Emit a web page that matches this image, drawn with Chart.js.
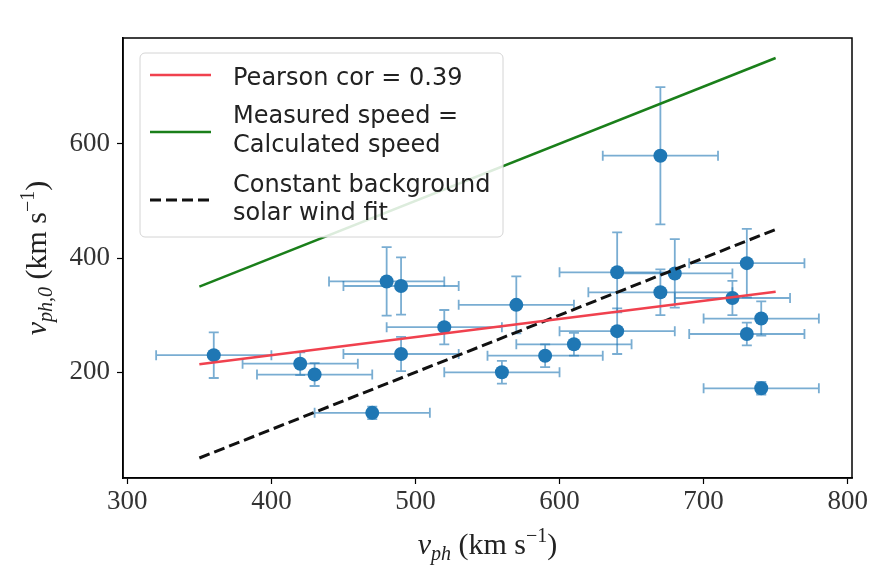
<!DOCTYPE html>
<html>
<head>
<meta charset="utf-8">
<script src="https://cdn.jsdelivr.net/npm/chart.js@4.4.0/dist/chart.umd.min.js"></script>
<style>
    html, body { margin: 0; padding: 0; background: #fff; }
</style>
</head>
<body>
<canvas id="speedChart" width="879" height="575"></canvas>
<script>
// measured phase speed (x) vs calculated speed (y), with errors
const vph     = [360, 420, 430, 470, 480, 490, 490, 520, 560, 570, 590, 610, 640, 640, 670, 670, 680, 720, 730, 730, 740, 740];
const vph0    = [230, 215, 196, 129, 359, 351, 232, 279, 200, 318, 229, 249, 375, 272, 579, 340, 373, 330, 391, 267, 294, 172];
const vphErr  = [ 40,  40,  40,  40,  40,  40,  40,  40,  40,  40,  40,  40,  40,  40,  40,  50,  40,  40,  40,  40,  40,  40];
const vph0Err = [ 40,  20,  20,  11,  60,  50,  30,  30,  20,  50,  20,  20,  70,  40, 120,  40,  60,  30,  60,  20,  30,  11];

// reference lines
const lineX    = [350, 750];
const pearsonY = [214, 341];
const equalY   = [350, 750];
const bgFitY   = [50, 450];

const xTicks = [300, 400, 500, 600, 700, 800];
const yTicks = [200, 400, 600];

const legendItems = [
    { lines: ['Pearson cor = 0.39'], color: '#f0414e', dash: [] },
    { lines: ['Measured speed =', 'Calculated speed'], color: '#1a7f1a', dash: [] },
    { lines: ['Constant background', 'solar wind fit'], color: '#111', dash: [11, 5] }
];

const toPoints = (xs, ys) => xs.map((v, i) => ({ x: v, y: ys[i] }));

const errorBars = {
    id: 'errorBars',
    beforeDatasetsDraw(chart) {
        const { ctx, chartArea: a } = chart;
        const x = chart.scales.x, y = chart.scales.y;
        const cap = 5;
        ctx.save();
        ctx.beginPath();
        ctx.rect(a.left, a.top, a.right - a.left, a.bottom - a.top);
        ctx.clip();
        ctx.strokeStyle = 'rgba(31, 119, 180, 0.6)';
        ctx.lineWidth = 1.8;
        vph.forEach((vx, i) => {
            const px = x.getPixelForValue(vx);
            const py = y.getPixelForValue(vph0[i]);
            const x0 = x.getPixelForValue(vx - vphErr[i]);
            const x1 = x.getPixelForValue(vx + vphErr[i]);
            const y0 = y.getPixelForValue(vph0[i] - vph0Err[i]);
            const y1 = y.getPixelForValue(vph0[i] + vph0Err[i]);
            ctx.beginPath();
            ctx.moveTo(x0, py); ctx.lineTo(x1, py);
            ctx.moveTo(x0, py - cap); ctx.lineTo(x0, py + cap);
            ctx.moveTo(x1, py - cap); ctx.lineTo(x1, py + cap);
            ctx.moveTo(px, y0); ctx.lineTo(px, y1);
            ctx.moveTo(px - cap, y0); ctx.lineTo(px + cap, y0);
            ctx.moveTo(px - cap, y1); ctx.lineTo(px + cap, y1);
            ctx.stroke();
        });
        ctx.restore();
    }
};

// draws text pieces with sub/superscripts, centered on (cx, baseline)
function drawMath(ctx, parts, cx, by) {
    let total = 0;
    parts.forEach(p => { ctx.font = p.font; total += ctx.measureText(p.t).width; });
    let cur = cx - total / 2;
    ctx.textAlign = 'left';
    ctx.textBaseline = 'alphabetic';
    parts.forEach(p => {
        ctx.font = p.font;
        ctx.fillText(p.t, cur, by + (p.dy || 0));
        cur += ctx.measureText(p.t).width;
    });
}

const decorations = {
    id: 'decorations',
    afterDraw(chart) {
        const { ctx, chartArea: a } = chart;
        ctx.save();

        // full box around the axes
        ctx.strokeStyle = '#000';
        ctx.lineWidth = 1.5;
        ctx.strokeRect(a.left, a.top, a.right - a.left, a.bottom - a.top);

        // legend
        const bx = 140, by = 53, bw = 363, bh = 184;
        ctx.beginPath();
        ctx.roundRect(bx, by, bw, bh, 5);
        ctx.fillStyle = 'rgba(255,255,255,0.85)';
        ctx.fill();
        ctx.strokeStyle = '#d4d4d4';
        ctx.lineWidth = 1;
        ctx.stroke();

        const handleY = [75, 132, 200];
        const baselines = [[85], [123, 152], [192, 220]];
        ctx.font = '24px "DejaVu Sans"';
        legendItems.forEach((item, i) => {
            ctx.beginPath();
            ctx.setLineDash(item.dash);
            ctx.strokeStyle = item.color;
            ctx.lineWidth = item.dash.length ? 3 : 2.5;
            ctx.moveTo(150, handleY[i]);
            ctx.lineTo(211, handleY[i]);
            ctx.stroke();
            ctx.setLineDash([]);
            ctx.fillStyle = '#222';
            ctx.textAlign = 'left';
            ctx.textBaseline = 'alphabetic';
            item.lines.forEach((t, j) => ctx.fillText(t, 233, baselines[i][j]));
        });

        // axis titles
        const big = '30px "Liberation Serif"';
        const bigIt = 'italic 30px "Liberation Serif"';
        const small = '20px "Liberation Serif"';
        const smallIt = 'italic 20px "Liberation Serif"';
        ctx.fillStyle = '#222';
        drawMath(ctx, [
            { t: 'v', font: bigIt },
            { t: 'ph', font: smallIt, dy: 6 },
            { t: ' (km s', font: big },
            { t: '\u22121', font: small, dy: -12 },
            { t: ')', font: big }
        ], (a.left + a.right) / 2, 554);

        ctx.translate(46, (a.top + a.bottom) / 2);
        ctx.rotate(-Math.PI / 2);
        drawMath(ctx, [
            { t: 'v', font: bigIt },
            { t: 'ph,0', font: smallIt, dy: 6 },
            { t: ' (km s', font: big },
            { t: '\u22121', font: small, dy: -12 },
            { t: ')', font: big }
        ], 0, 0);

        ctx.restore();
    }
};

const tickFont = { family: 'Liberation Serif', size: 27 };

const ctx = document.getElementById('speedChart').getContext('2d');
new Chart(ctx, {
    type: 'scatter',
    data: {
        datasets: [
            {
                label: 'Pearson cor = 0.39',
                data: toPoints(lineX, pearsonY),
                showLine: true,
                borderColor: '#f0414e',
                borderWidth: 2.5,
                pointRadius: 0,
                order: 0
            },
            {
                label: 'Measured speed = Calculated speed',
                data: toPoints(lineX, equalY),
                showLine: true,
                borderColor: '#1a7f1a',
                borderWidth: 2.5,
                pointRadius: 0,
                order: 0
            },
            {
                label: 'Constant background solar wind fit',
                data: toPoints(lineX, bgFitY),
                showLine: true,
                borderColor: '#111',
                borderWidth: 3,
                borderDash: [11, 5],
                pointRadius: 0,
                order: 0
            },
            {
                label: 'events',
                data: toPoints(vph, vph0),
                pointRadius: 7,
                backgroundColor: '#1f77b4',
                borderWidth: 0,
                order: 1
            }
        ]
    },
    options: {
        responsive: false,
        animation: false,
        layout: { padding: { left: 0, top: 38, right: 27, bottom: 0 } },
        plugins: {
            legend: { display: false },
            tooltip: { enabled: false }
        },
        scales: {
            x: {
                type: 'linear',
                min: 297,
                max: 803,
                afterBuildTicks: s => { s.ticks = xTicks.map(v => ({ value: v })); },
                afterFit: s => { s.height = 97; },
                grid: { drawOnChartArea: false, tickLength: 6, tickColor: '#000', tickWidth: 1.2 },
                border: { color: '#000', width: 1.5 },
                ticks: { font: tickFont, color: '#333', padding: 2, maxRotation: 0 }
            },
            y: {
                type: 'linear',
                min: 15,
                max: 785,
                afterBuildTicks: s => { s.ticks = yTicks.map(v => ({ value: v })); },
                afterFit: s => { s.width = 123; },
                grid: { drawOnChartArea: false, tickLength: 6, tickColor: '#000', tickWidth: 1.2 },
                border: { color: '#000', width: 1.5 },
                ticks: { font: tickFont, color: '#333', padding: 7 }
            }
        }
    },
    plugins: [errorBars, decorations]
});
</script>
</body>
</html>
